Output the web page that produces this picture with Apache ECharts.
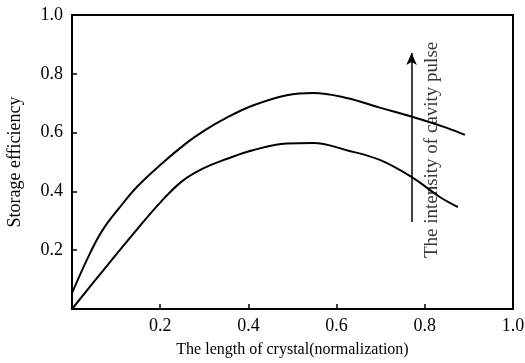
<!DOCTYPE html>
<html>
<head>
<meta charset="utf-8">
<script src="https://cdn.jsdelivr.net/npm/echarts@6/dist/echarts.min.js"></script>
<style>
  html, body { margin: 0; padding: 0; background: #fff; }
  #main { width: 525px; height: 363px; }
</style>
</head>
<body>
<div id="main"></div>
<script>
// curves: [length, efficiency]
var upperCurve = [
  [0, 0.054], [0.041, 0.19], [0.07, 0.27], [0.109, 0.347], [0.147, 0.415],
  [0.2, 0.49], [0.26, 0.565], [0.3, 0.607], [0.35, 0.65], [0.41, 0.692],
  [0.487, 0.727], [0.547, 0.735], [0.623, 0.718], [0.698, 0.685],
  [0.773, 0.653], [0.85, 0.616], [0.891, 0.592]
];
var lowerCurve = [
  [0, 0.0], [0.07, 0.13], [0.147, 0.27], [0.2, 0.362], [0.25, 0.435],
  [0.3, 0.48], [0.35, 0.51], [0.41, 0.54],
  [0.487, 0.563], [0.547, 0.565], [0.623, 0.54], [0.698, 0.507],
  [0.773, 0.446], [0.834, 0.381], [0.875, 0.347]
];
var arrowFrom = [0.77, 0.296];
var arrowTo = [0.77, 0.871];
var noteAt = [0.816, 0.541];
var noteText = 'The intensity of cavity pulse';

var serif = 'Liberation Serif';
var myChart = echarts.init(document.getElementById('main'));
var option = {
  animation: false,
  backgroundColor: '#fff',
  grid: {
    left: 72, right: 12, top: 15, bottom: 54,
    containLabel: false, outerBoundsMode: 'none'
  },
  xAxis: {
    type: 'value',
    min: 0, max: 1, interval: 0.2,
    name: 'The length of crystal(normalization)',
    nameLocation: 'middle',
    nameGap: 33,
    nameTextStyle: { fontFamily: serif, fontSize: 16, color: '#000' },
    axisLine: { show: true, onZero: false, lineStyle: { color: '#000', width: 2 } },
    axisTick: { show: true, inside: true, length: 5, lineStyle: { color: '#000', width: 1.5 } },
    axisLabel: {
      fontFamily: serif, fontSize: 18, color: '#000', margin: 8,
      formatter: function (v) { return v === 0 ? '' : v.toFixed(1); }
    },
    splitLine: { show: false }
  },
  yAxis: {
    type: 'value',
    min: 0, max: 1, interval: 0.2,
    name: 'Storage efficiency',
    nameLocation: 'middle',
    nameGap: 48,
    nameTextStyle: { fontFamily: serif, fontSize: 18, color: '#000' },
    axisLine: { show: true, onZero: false, lineStyle: { color: '#000', width: 2 } },
    axisTick: { show: true, inside: true, length: 5, lineStyle: { color: '#000', width: 1.5 } },
    axisLabel: {
      fontFamily: serif, fontSize: 18, color: '#000', margin: 9,
      formatter: function (v) { return v === 0 ? '' : v.toFixed(1); }
    },
    splitLine: { show: false }
  },
  series: [
    {
      type: 'line',
      data: upperCurve,
      smooth: 0.4,
      symbol: 'none',
      lineStyle: { color: '#000', width: 2 }
    },
    {
      type: 'line',
      data: lowerCurve,
      smooth: 0.4,
      symbol: 'none',
      lineStyle: { color: '#000', width: 2 },
      markLine: {
        silent: true,
        symbol: ['none', 'arrow'],
        symbolSize: [8, 12],
        label: { show: false },
        lineStyle: { color: '#000', width: 1.5, type: 'solid' },
        data: [[{ coord: arrowFrom }, { coord: arrowTo }]]
      }
    },
    {
      type: 'scatter',
      data: [noteAt],
      symbolSize: 0,
      silent: true,
      label: {
        show: true,
        position: 'inside',
        rotate: 90,
        formatter: noteText,
        fontFamily: serif,
        fontSize: 19,
        color: '#000'
      }
    }
  ]
};
myChart.setOption(option);

// box: top and right border of the plot
var rect = myChart.getModel().getComponent('grid').coordinateSystem.getRect();
myChart.setOption({
  graphic: [{
    type: 'rect',
    shape: { x: rect.x, y: rect.y, width: rect.width, height: rect.height },
    style: { fill: 'none', stroke: '#000', lineWidth: 2 },
    silent: true
  }]
});
</script>
</body>
</html>
